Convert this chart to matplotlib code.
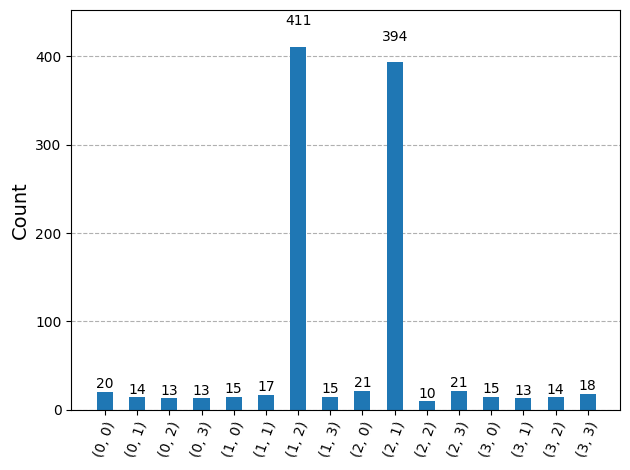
import matplotlib
matplotlib.use("Agg")
import numpy as np
from matplotlib import pyplot as plt

# measurement outcomes and their counts
labels = ["(0, 0)", "(0, 1)", "(0, 2)", "(0, 3)", "(1, 0)", "(1, 1)", "(1, 2)", "(1, 3)",
          "(2, 0)", "(2, 1)", "(2, 2)", "(2, 3)", "(3, 0)", "(3, 1)", "(3, 2)", "(3, 3)"]
counts = [20, 14, 13, 13, 15, 17, 411, 15, 21, 394, 10, 21, 15, 13, 14, 18]

fig, ax = plt.subplots(figsize=(6.3, 4.7), dpi=100)
x = np.arange(len(labels))
rects = ax.bar(x, counts, width=0.5, color="#1f77b4", zorder=2)
for r, c in zip(rects, counts):
    ax.text(r.get_x() + r.get_width() / 2, 1.05 * c, str(c), ha="center", va="bottom", zorder=3)

ax.set_xticks(x)
ax.set_xticklabels(labels, rotation=70, fontsize=10)
ax.set_xlim(-1.05, len(labels))
ax.set_ylim(0, 1.1 * max(counts))
ax.set_ylabel("Count", fontsize=14)
ax.set_axisbelow(True)
ax.yaxis.grid(True, linestyle="--", color="#b0b0b0", zorder=0)
fig.subplots_adjust(left=0.113, right=0.984, top=0.978, bottom=0.128)
fig.savefig("out.png")
